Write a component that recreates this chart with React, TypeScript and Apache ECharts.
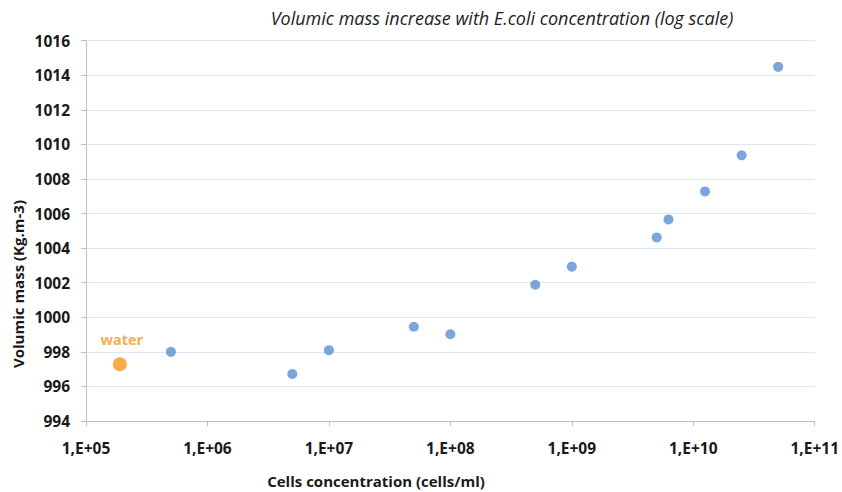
import React, { useEffect, useRef } from "react";
import * as echarts from "echarts";

const concentrations = [5e5, 5e6, 1e7, 5e7, 1e8, 5e8, 1e9, 5e9, 6.25e9, 1.25e10, 2.5e10, 5e10];
const volumicMass = [998.0, 996.72, 998.1, 999.45, 999.02, 1001.88, 1002.93, 1004.62, 1005.66, 1007.28, 1009.37, 1014.49];
const waterPoint = [1.9e5, 997.28];
const yTicks = [994, 996, 998, 1000, 1002, 1004, 1006, 1008, 1010, 1012, 1014, 1016];

const FONT = "Open Sans";

export default function App() {
  const ref = useRef<HTMLDivElement>(null);
  useEffect(() => {
    if (!ref.current) return;
    const chart = echarts.init(ref.current, null, { renderer: "svg" });
    chart.setOption({
      animation: false,
      backgroundColor: "#ffffff",
      textStyle: { fontFamily: FONT },
      grid: { left: 86, right: 24, top: 40.7, bottom: 71, containLabel: false },
      graphic: [
        {
          type: "text",
          x: 502,
          y: 18,
          style: {
            text: "Volumic mass increase with E.coli concentration (log scale)",
            font: `italic 18px ${FONT}`,
            fill: "#222222",
            align: "center",
            verticalAlign: "middle",
          },
        },
        {
          type: "text",
          x: 18,
          y: 284,
          rotation: Math.PI / 2,
          style: {
            text: "Volumic mass (Kg.m-3)",
            font: `bold 15px ${FONT}`,
            fill: "#1a1a1a",
            align: "center",
            verticalAlign: "middle",
          },
        },
        {
          type: "text",
          x: 376,
          y: 481,
          style: {
            text: "Cells concentration (cells/ml)",
            font: `bold 15px ${FONT}`,
            fill: "#1a1a1a",
            align: "center",
            verticalAlign: "middle",
          },
        },
      ],
      xAxis: {
        type: "log",
        logBase: 10,
        min: 1e5,
        max: 1e11,
        axisLine: { show: true, lineStyle: { color: "#bfbfbf", width: 1 } },
        axisTick: { show: true, inside: false, length: 5, lineStyle: { color: "#bfbfbf" } },
        splitLine: { show: false },
        minorTick: { show: false },
        axisLabel: {
          margin: 19,
          color: "#1a1a1a",
          fontWeight: "bold",
          fontSize: 15.5,
          fontFamily: FONT,
          formatter: (v: number) => {
            const e = Math.round(Math.log10(v));
            return "1,E+" + (e < 10 ? "0" + e : String(e));
          },
        },
      },
      yAxis: {
        type: "value",
        min: yTicks[0],
        max: yTicks[yTicks.length - 1],
        interval: 2,
        axisLine: { show: true, lineStyle: { color: "#bfbfbf", width: 1 } },
        axisTick: { show: true, inside: false, length: 5, lineStyle: { color: "#bfbfbf" } },
        splitLine: { show: true, lineStyle: { color: "#dce6f4", width: 1 } },
        axisLabel: {
          margin: 16,
          color: "#1a1a1a",
          fontWeight: "bold",
          fontSize: 15.5,
          fontFamily: FONT,
          formatter: (v: number) => String(v),
        },
      },
      series: [
        {
          type: "scatter",
          name: "E.coli",
          symbol: "circle",
          symbolSize: 10,
          itemStyle: { color: "#5a8fd2" },
          data: concentrations.map((c, i) => [c, volumicMass[i]]),
        },
        {
          type: "scatter",
          name: "water",
          symbol: "circle",
          symbolSize: 14,
          itemStyle: { color: "#f7931e" },
          label: {
            show: true,
            position: "top",
            distance: 10,
            offset: [2, 0],
            formatter: "water",
            color: "#f7931e",
            fontWeight: "bold",
            fontSize: 14.5,
            fontFamily: FONT,
          },
          data: [waterPoint],
        },
      ],
    });
    return () => chart.dispose();
  }, []);
  return (
    <div
      ref={ref}
      style={{ position: "fixed", left: 0, top: 0, width: 842, height: 492 }}
    />
  );
}
